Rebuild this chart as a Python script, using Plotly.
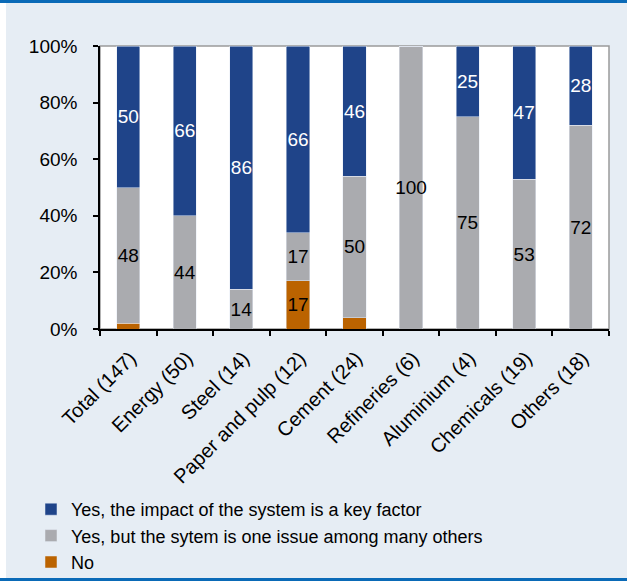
import plotly.graph_objects as go

categories = ["Total (147)", "Energy (50)", "Steel (14)", "Paper and pulp (12)", "Cement (24)",
              "Refineries (6)", "Aluminium (4)", "Chemicals (19)", "Others (18)"]
no_vals = [2, 0, 0, 17, 4, 0, 0, 0, 0]
no_text = ["", "", "", "17", "", "", "", "", ""]
many_vals = [48, 44, 14, 17, 50, 100, 75, 53, 72]
key_vals = [50, 66, 86, 66, 46, 0, 25, 47, 28]

series_names = ["Yes, the impact of the system is a key factor",
                "Yes, but the sytem is one issue among many others",
                "No"]

BLUE = "#1f4489"
GRAY = "#aaabaf"
ORANGE = "#bb6300"
FONT = "Liberation Sans, Arial, sans-serif"

W, H = 627, 581
L, R, T, B = 100, 18, 46, 252
PW, PH = W - L - R, H - T - B

def px(x):
    return (x - L) / PW

def py(y):
    return (H - B - y) / PH

common = dict(textposition="inside", insidetextanchor="middle", textangle=0,
              constraintext="none", hoverinfo="skip")

fig = go.Figure()
fig.add_trace(go.Bar(x=categories, y=no_vals, name=series_names[2], marker_color=ORANGE,
                     text=no_text, insidetextfont=dict(color="black", size=19, family=FONT),
                     legendgroup="c", legendrank=3, **common))
fig.add_trace(go.Bar(x=categories, y=many_vals, name=series_names[1], marker_color=GRAY,
                     text=[str(v) for v in many_vals],
                     insidetextfont=dict(color="black", size=19, family=FONT),
                     legendgroup="b", legendrank=2, **common))
fig.add_trace(go.Bar(x=categories, y=key_vals, name=series_names[0], marker_color=BLUE,
                     text=[str(v) if v else "" for v in key_vals],
                     insidetextfont=dict(color="white", size=19, family=FONT),
                     legendgroup="a", legendrank=1, **common))

shapes = [
    dict(type="rect", xref="paper", yref="paper", x0=px(0), x1=px(6), y0=py(H), y1=py(0),
         fillcolor="white", line=dict(width=0), layer="above"),
    dict(type="rect", xref="paper", yref="paper", x0=px(0), x1=px(W), y0=py(3), y1=py(0),
         fillcolor="#0a6ab7", line=dict(width=0), layer="above"),
    dict(type="rect", xref="paper", yref="paper", x0=px(0), x1=px(W), y0=py(H), y1=py(578),
         fillcolor="#0a6ab7", line=dict(width=0), layer="above"),
    dict(type="rect", xref="paper", yref="paper", x0=0, x1=1, y0=0, y1=1,
         fillcolor="rgba(0,0,0,0)", line=dict(color="#9a9a9a", width=1.5), layer="below"),
]

fig.update_layout(
    width=W, height=H,
    margin=dict(l=L, r=R, t=T, b=B, autoexpand=False),
    barmode="stack", barnorm="percent", bargap=0.59,
    paper_bgcolor="#e6edf4", plot_bgcolor="white",
    font=dict(family=FONT, size=18, color="black"),
    showlegend=True,
    legend=dict(x=px(31), y=py(491), xanchor="left", yanchor="top",
                traceorder="grouped", tracegroupgap=0,
                font=dict(size=18, family=FONT), bgcolor="rgba(0,0,0,0)",
                itemwidth=30),
    shapes=shapes,
    xaxis=dict(showline=True, linecolor="black", linewidth=1.5, ticks="outside",
               tickson="boundaries", ticklen=5, tickcolor="black", tickwidth=1.5,
               tickangle=-45, tickfont=dict(size=20, family=FONT), showgrid=False,
               ticklabelstandoff=8, ticklabelshift=2, automargin=False),
    yaxis=dict(range=[0, 100], dtick=20, ticksuffix="%", showline=True, linecolor="black",
               linewidth=1.5, ticks="outside", ticklen=5, tickcolor="black", tickwidth=1.5,
               tickfont=dict(size=19, family=FONT), showgrid=False, zeroline=False,
               ticklabelstandoff=12, automargin=False),
)

fig.write_html("out.html", config={"displayModeBar": False},
               post_script="document.body.style.margin='0';")
